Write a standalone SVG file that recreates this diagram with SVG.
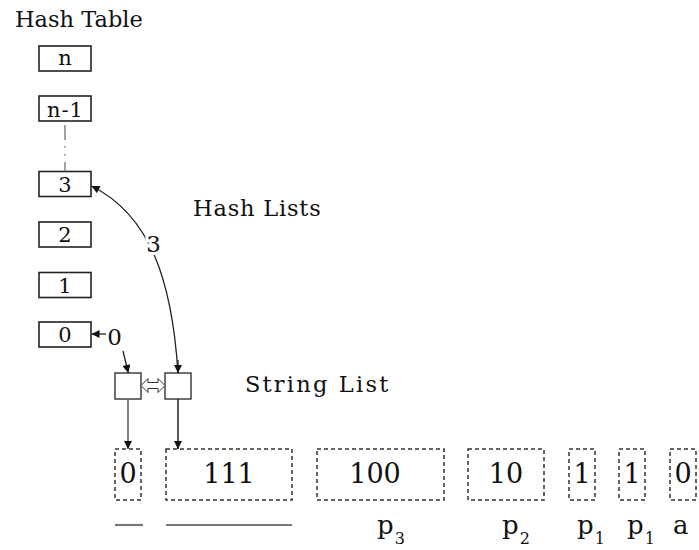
<svg xmlns="http://www.w3.org/2000/svg" width="699" height="550" viewBox="0 0 699 550" font-family="'DejaVu Serif', 'Liberation Serif', serif">
<style>
  text { fill: #111; }
  .hdr { font-size: 22.5px; }
  .hk { font-size: 21px; text-anchor: middle; }
  .sv { font-size: 27px; text-anchor: middle; }
  .lbl { font-size: 26px; }
  .sub { font-size: 16px; }
  .num { font-size: 23px; text-anchor: middle; }
  .hbox { fill: #fff; stroke: #222; stroke-width: 1.6; }
  .sq { fill: #fff; stroke: #333; stroke-width: 1.4; }
  .dbox { fill: none; stroke: #333; stroke-width: 1.5; stroke-dasharray: 4 3; }
  .conn { fill: none; stroke: #222; stroke-width: 1.3; }
  .uline { stroke: #777; stroke-width: 2.2; }
</style>
<defs>
  <marker id="ah" viewBox="0 0 10 10" refX="10" refY="5" markerWidth="9" markerHeight="8" markerUnits="userSpaceOnUse" orient="auto">
    <path d="M0,0 L10,5 L0,10 Z" fill="#111"/>
  </marker>
</defs>

<text class="hdr" x="15" y="27">Hash Table</text>
<text class="hdr" x="193" y="216" letter-spacing="0.8">Hash Lists</text>
<text class="hdr" x="245" y="392" letter-spacing="2.2">String List</text>

<g id="ht-n"><rect class="hbox" x="39" y="46" width="52" height="25"/><text class="hk" x="65" y="65">n</text></g>
<g id="ht-n-1"><rect class="hbox" x="39" y="96" width="52" height="25"/><text class="hk" x="65.5" y="117" letter-spacing="1">n-1</text></g>
<g id="ht-3"><rect class="hbox" x="39" y="171.5" width="52" height="25"/><text class="hk" x="65" y="191.5">3</text></g>
<g id="ht-2"><rect class="hbox" x="39" y="222" width="52" height="25"/><text class="hk" x="65" y="242">2</text></g>
<g id="ht-1"><rect class="hbox" x="39" y="272.5" width="52" height="25"/><text class="hk" x="65" y="292.5">1</text></g>
<g id="ht-0"><rect class="hbox" x="39" y="322" width="52" height="25"/><text class="hk" x="65" y="342">0</text></g>

<g id="hl-a"><rect class="sq" x="115" y="373" width="26" height="26"/></g>
<g id="hl-b"><rect class="sq" x="165" y="373" width="26" height="26"/></g>

<g id="s-0"><rect class="dbox" x="115" y="449" width="26" height="51"/><text class="sv" x="128" y="483">0</text></g>
<g id="s-111"><rect class="dbox" x="166" y="449" width="126" height="51"/><text class="sv" x="229" y="483">111</text></g>
<g id="s-100"><rect class="dbox" x="317" y="449" width="127" height="51"/><text class="sv" x="375" y="483">100</text></g>
<g id="s-10"><rect class="dbox" x="468" y="449" width="76" height="51"/><text class="sv" x="506" y="483">10</text></g>
<g id="s-1a"><rect class="dbox" x="569" y="449" width="26" height="51"/><text class="sv" x="582" y="483">1</text></g>
<g id="s-1b"><rect class="dbox" x="619" y="449" width="26" height="51"/><text class="sv" x="632" y="483">1</text></g>
<g id="s-0b"><rect class="dbox" x="670" y="449" width="26" height="51"/><text class="sv" x="683" y="483">0</text></g>

<g id="underlines">
  <line class="uline" x1="115" y1="525" x2="143" y2="525"/>
  <line class="uline" x1="166" y1="525" x2="292" y2="525"/>
</g>

<g id="labels">
  <text class="lbl" x="377" y="534">p<tspan class="sub" dx="1" dy="10">3</tspan></text>
  <text class="lbl" x="502" y="534">p<tspan class="sub" dx="1" dy="10">2</tspan></text>
  <text class="lbl" x="577" y="534">p<tspan class="sub" dx="1" dy="10">1</tspan></text>
  <text class="lbl" x="627" y="534">p<tspan class="sub" dx="1" dy="10">1</tspan></text>
  <text class="lbl" x="673" y="534">a</text>
</g>

<g id="connectors">
  <line x1="65" y1="125" x2="65" y2="171.5" stroke="#666" stroke-width="1.2" stroke-dasharray="15 6 1.5 6.5 1.5 6.5 30"/>
  <path class="conn" d="M178,373 C172,280 150,215 91.5,186" marker-end="url(#ah)"/>
  <line class="conn" x1="178" y1="360" x2="178" y2="373" marker-end="url(#ah)"/>
  <line class="conn" x1="106" y1="334" x2="91.5" y2="334" marker-end="url(#ah)"/>
  <line class="conn" x1="123" y1="351" x2="128.3" y2="373" marker-end="url(#ah)"/>
  <line x1="128" y1="399" x2="128" y2="449" stroke="#555" stroke-width="1.5" marker-end="url(#ah)"/>
  <line x1="178" y1="399" x2="178" y2="449" stroke="#222" stroke-width="1.5" marker-end="url(#ah)"/>
  <polygon points="141,385.5 148,378.5 148,382.5 158,382.5 158,378.5 165,385.5 158,392.5 158,388.5 148,388.5 148,392.5" fill="#fff" stroke="#333" stroke-width="1"/>
  <text class="num" x="153.5" y="252" stroke="#fff" stroke-width="6" paint-order="stroke">3</text>
  <text class="num" x="114.5" y="345" stroke="#fff" stroke-width="4" paint-order="stroke">0</text>
</g>
</svg>
